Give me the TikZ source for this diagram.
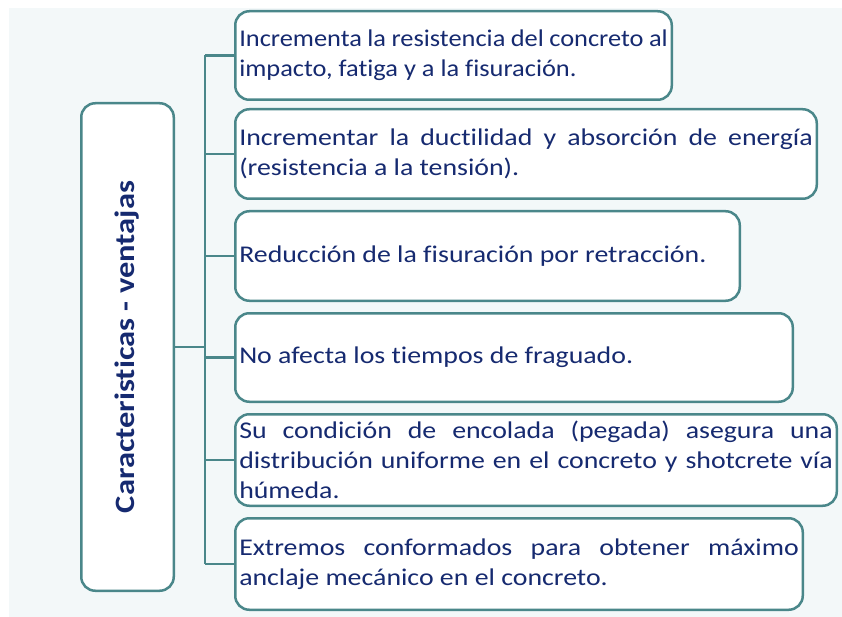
\documentclass[tikz,border=0pt]{standalone}
\usepackage{fontspec}
\setmainfont{Carlito}[FakeStretch=1.16,Ligatures=NoCommon]
\newfontfamily\estrecha{Carlito}[FakeStretch=1.10,Ligatures=NoCommon]
\usepackage{graphicx}
\usepackage{tikz}
\usetikzlibrary{positioning}

\definecolor{borde}{RGB}{74,135,138}
\definecolor{tinta}{RGB}{22,42,112}
\definecolor{fondo}{RGB}{243,248,249}

\begin{document}
\begin{tikzpicture}[x=1pt,y=-1pt,
            ventaja/.style={draw=borde,line width=2.5pt,rounded corners=14pt,fill=white,
              text=tinta,anchor=north west,inner xsep=4pt,inner ysep=0pt,align=justify,
              font=\fontsize{24}{30}\selectfont},
            titulo/.style={draw=borde,line width=2.5pt,rounded corners=14pt,fill=white,
              text=tinta,minimum width=92.5pt,minimum height=487.5pt,inner sep=0pt,
              font=\fontsize{28}{32}\selectfont\bfseries},
            link/.style={draw=borde,line width=2.5pt},
            node distance=10pt
          ]
          \useasboundingbox (0,0) rectangle (842,617);
          \fill[fondo] (9,8) rectangle (842,617);

          %titulo
          \node[titulo] (main) at (127.5,347) {\rotatebox{90}{Caracteristicas - ventajas}};

          %ventajas
          \node[ventaja,text width=428.5pt,minimum height=88.5pt,font=\fontsize{24}{30}\estrecha] (b1) at (234,10)
            {Incrementa la resistencia del concreto al\linebreak impacto, fatiga y a la fisuración.};
          \node[ventaja,text width=573.5pt,minimum height=89.5pt,below=7pt of b1.south west,anchor=north west] (b2)
            {Incrementar la ductilidad y absorción de energía\linebreak (resistencia a la tensión).};
          \node[ventaja,text width=496.5pt,minimum height=89.5pt,below=of b2.south west,anchor=north west] (b3)
            {Reducción de la fisuración por retracción.};
          \node[ventaja,text width=549.5pt,minimum height=88.5pt,below=of b3.south west,anchor=north west] (b4)
            {No afecta los tiempos de fraguado.};
          \node[ventaja,text width=593.5pt,minimum height=91.5pt,below=of b4.south west,anchor=north west] (b5)
            {Su condición de encolada (pegada) asegura una\linebreak distribución uniforme en el concreto y shotcrete vía\linebreak húmeda.};
          \node[ventaja,text width=559.5pt,minimum height=91.5pt,below=of b5.south west,anchor=north west] (b6)
            {Extremos conformados para obtener máximo\linebreak anclaje mecánico en el concreto.};

          %conectores
          \coordinate (spine) at (205,346);
          \draw[link] (main.east) -- (main.east -| spine);
          \draw[link] (spine |- b1.west) -- (spine |- b6.west);
          \foreach \i in {1,...,6}
            \draw[link] (spine |- b\i.west) -- (b\i.west);

      \end{tikzpicture}
\end{document}
